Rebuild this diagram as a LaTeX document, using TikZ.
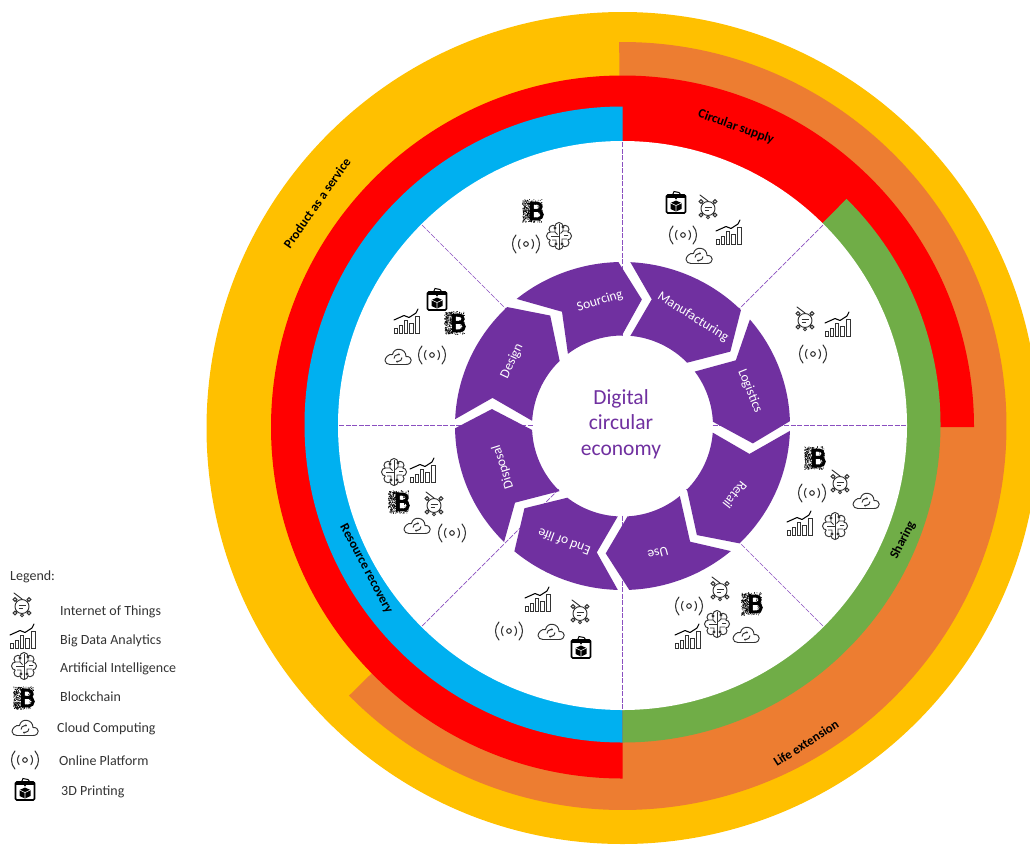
\documentclass[tikz,border=0pt]{standalone}
\usepackage{fontspec}
\setmainfont{Carlito}
\usetikzlibrary{arrows.meta}
\definecolor{ringyellow}{HTML}{FFC000}
\definecolor{ringorange}{HTML}{ED7D31}
\definecolor{ringred}{HTML}{FF0000}
\definecolor{ringblue}{HTML}{00B0F0}
\definecolor{ringgreen}{HTML}{70AD47}
\definecolor{segpurple}{HTML}{7030A0}
\definecolor{dashpurple}{HTML}{8A4FC0}
\definecolor{icogray}{HTML}{333333}
\newcommand{\segshape}[8]{%
  \fill[segpurple] (#1:167.5 and 164) arc[start angle=#1,end angle=#2,x radius=167.5,y radius=164]
    -- (#3:#4) -- (#5:90.5) arc[start angle=#5,end angle=#6,radius=90.5] -- (#7:#8) -- cycle;}
\tikzset{
  seglabel/.style={text=white,font=\fontsize{13.5}{15}\selectfont,inner sep=0pt},
  ringlabel/.style={text=black,font=\fontsize{13}{15}\bfseries\selectfont,inner sep=0pt},
  legendlabel/.style={text=black!80,font=\fontsize{14}{16}\selectfont,inner sep=0pt,anchor=west},
  divider/.style={dashpurple,line width=.7pt,dash pattern=on 5pt off 1.5pt},
  icowifi/.pic={
    \begin{scope}[icogray,line width=1.05pt,line cap=round]
      \draw (0,0) circle[radius=2.3];
      \draw (-38:7.5) arc[start angle=-38,end angle=38,radius=7.5];
      \draw (142:7.5) arc[start angle=142,end angle=218,radius=7.5];
      \draw (-42:13.5) arc[start angle=-42,end angle=42,radius=13.5];
      \draw (138:13.5) arc[start angle=138,end angle=222,radius=13.5];
    \end{scope}},
  icochart/.pic={
    \begin{scope}[icogray,line width=.95pt]
      \draw (-12.5,11.5) rectangle (-9.3,6.5);
      \draw (-7.4,11.5) rectangle (-4.2,3);
      \draw (-2.3,11.5) rectangle (.9,-1.5);
      \draw (2.8,11.5) rectangle (6,1);
      \draw (8.4,11.5) rectangle (12.2,-6);
      \draw[black,line width=1.05pt,line cap=round,line join=round] (-13,-2) -- (-3,-6.5) -- (2,-4.5) -- (9,-9) -- (11,-13);
    \end{scope}},
  icoiot/.pic={
    \begin{scope}[icogray,line width=.95pt]
      \draw[line cap=round] (-8,-13) -- (0,-7);
      \draw (-7,-6.5) -- (7,7) (7,-6.5) -- (-7,7);
      \fill[white] (0,.5) circle[radius=7];
      \draw (0,.5) circle[radius=7];
      \draw[fill=white] (-7,-6.5) circle[radius=1.9] (7,-6.5) circle[radius=1.9] (-7,7) circle[radius=1.9] (7,7) circle[radius=1.9] (0,9.3) circle[radius=1.5];
      \draw (-3.5,-.5) -- (3.5,-.5) (-3.5,2) -- (1,2);
    \end{scope}},
  icobrain/.pic={
    \begin{scope}[icogray,line width=.95pt]
      \foreach \a in {0,45,...,315} {\draw[fill=white] (\a:8.5 and 9.5) circle[radius=4];}
      \fill[white] (0,0) circle[x radius=9.2,y radius=10.3];
      \draw (0,-12.5) -- (0,12.5);
      \draw (-9,-4) -- (-4,-4) -- (-1.5,-1.5) (-7,4) -- (-3,4) -- (-3,8) (-4,-8) -- (-4,-4) (-8,0.5) -- (0,0.5);
      \draw (9,-5) -- (4,-5) -- (1.5,-2.5) (8,3) -- (3,3) -- (3,8) (4,-9) -- (4,-5) (9,-.5) -- (5,-.5);
      \draw[fill=white] (-3,8) circle[radius=1] (3,8) circle[radius=1] (-4,-8) circle[radius=1] (4,-9) circle[radius=1];
    \end{scope}},
  icob/.pic={
    \begin{scope}[black]
      \foreach \i in {1,...,260} {\fill ({10*rand-.5},{11.5*rand}) circle[radius=.48];}
      \foreach \i in {1,...,120} {\fill ({4.5*rand-5.5},{10.5*rand}) circle[radius=.55];}
      \draw[line width=3.4pt] (-1,-9.4) -- (-1,9.4);
      \draw[line width=3pt] (-2,-7.8) -- (4.5,-7.8) arc[start angle=-90,end angle=90,radius=3.6] -- (-2,-.6);
      \draw[line width=3pt] (-2,-.6) -- (5,-.6) arc[start angle=-90,end angle=90,radius=4.2] -- (-2,7.8);
      \fill[white] (0.8,-6) rectangle (4.2,-2.4) (0.8,1.2) rectangle (4.8,6);
    \end{scope}},
  icocloud/.pic={
    \begin{scope}[icogray,line width=.95pt,line join=round]
      \draw (-8,7.5) -- (8,7.5) .. controls (15,7.5) and (15,-1) .. (8,-.5)
        .. controls (8,-9) and (-4,-10.5) .. (-5.5,-2.5)
        .. controls (-9.5,-3.5) and (-13,1) .. (-13,3.5)
        .. controls (-13,6) and (-10.5,7.5) .. (-8,7.5);
      \draw[-{Stealth[length=2.4pt,width=2.8pt]}] (-4,1.5) arc[start angle=180,end angle=300,radius=4];
      \draw[-{Stealth[length=2.4pt,width=2.8pt]}] (4,.5) arc[start angle=0,end angle=120,radius=4];
    \end{scope}},
  icoprinter/.pic={
    \begin{scope}[black]
      \draw[line width=1.6pt,fill=white,rounded corners=1.2pt] (-9.5,-8) rectangle (9.5,10);
      \fill (-9.5,-8) rectangle (9.5,-5.5);
      \draw[line width=1pt] (-3.5,-8) -- (-2,-11.5) -- (3,-10.5) -- (5,-8);
      \fill (0,-2.5) -- (5.5,0) -- (5.5,6) -- (0,8.5) -- (-5.5,6) -- (-5.5,0) -- cycle;
      \draw[white,line width=.6pt] (-5.5,0) -- (0,2.5) -- (5.5,0) (0,2.5) -- (0,8.5);
      \fill (-1.5,-5.5) -- (1.5,-5.5) -- (0,-3.4) -- cycle;
    \end{scope}}
}
\begin{document}
\begin{tikzpicture}[x=1pt,y=-1pt]
\clip (0,0) rectangle (1030,844);
\pgfmathsetseed{42}
% rings
\begin{scope}[shift={(622.5,428)},y=1pt]
  \fill[ringyellow] (0,0) circle[radius=416];
\end{scope}
\begin{scope}[shift={(622.5,426)},y=1pt]
  \fill[ringorange] (0,0) -- (90.5:384) arc[start angle=90.5,end angle=-135.4,radius=384] -- cycle;
\end{scope}
\begin{scope}[shift={(622.5,427)},y=1pt]
  \fill[ringred] (0,0) -- (0:351.5) arc[start angle=0,end angle=270,radius=351.5] -- cycle;
\end{scope}
\begin{scope}[shift={(622.5,424.5)},y=1pt]
  \fill[ringblue] (0,0) -- (90:318) arc[start angle=90,end angle=270,radius=318] -- cycle;
  \fill[ringgreen] (0,0) -- (270:318) arc[start angle=270,end angle=405.2,radius=318] -- cycle;
\end{scope}
\begin{scope}[shift={(622.5,425.5)},y=1pt]
  \fill[white] (0,0) circle[radius=284.5];
  \foreach \a in {0,45,...,315} {\draw[divider] (\a:90) -- (\a:284);}
\end{scope}
% process ring
\begin{scope}[shift={(622.5,426)},y=1pt]
  \segshape{129.2}{91.4}{81.3}{128}{90.4}{127.1}{117.9}{129.3}
  \segshape{87.3}{45}{34.6}{131}{44.4}{85}{77}{130}
  \segshape{40.5}{1.7}{-7.6}{131.5}{2.7}{37}{30.1}{131}
  \segshape{-1.7}{-45.7}{-55.7}{132}{-44.6}{-4.2}{-12.4}{130}
  \segshape{-49.7}{-87.7}{-97.5}{128.5}{-86.8}{-50.7}{-59.7}{134}
  \segshape{-91.6}{-130.2}{-140}{128}{-127.6}{-93}{-101.5}{129}
  \segshape{225}{180.8}{172.6}{131.7}{182.5}{226}{215.5}{132}
  \segshape{177.6}{133.5}{123.2}{132}{134}{176.7}{167.8}{133}
\end{scope}
% process labels
\node[seglabel,rotate=17] (sourcing) at (600,301) {Sourcing};
\node[seglabel,rotate=-32] (manufacturing) at (693,317) {Manufacturing};
\node[seglabel,rotate=-68] (logistics) at (750,391) {Logistics};
\node[seglabel,rotate=-128] (retail) at (735,495) {Retail};
\node[seglabel,rotate=195] (use) at (658,553) {Use};
\node[seglabel,rotate=159.5] (endoflife) at (564,542) {End of life};
\node[seglabel,rotate=107.7] (disposal) at (503,467) {Disposal};
\node[seglabel,rotate=64.7] (design) at (512,361) {Design};
\node[text=segpurple,font=\fontsize{21.5}{25.5}\selectfont,align=center,inner sep=0pt] (centre) at (621,424) {Digital\\circular\\economy};
% ring labels
\node[ringlabel,rotate=-20] (circular) at (736,127) {Circular supply};
\node[ringlabel,rotate=55] (product) at (317,203) {Product as a service};
\node[ringlabel,rotate=-62] (resource) at (366,569) {Resource recovery};
\node[ringlabel,rotate=63] (sharing) at (903,540) {Sharing};
\node[ringlabel,rotate=32.6] (life) at (806,743) {Life extension};
% icons: Sourcing
\pic at (533,211) {icob};
\pic at (559,236) {icobrain};
\pic at (526,244) {icowifi};
% Manufacturing
\pic at (676,203) {icoprinter};
\pic at (708,208) {icoiot};
\pic at (683,235) {icowifi};
\pic at (729,233) {icochart};
\pic at (699,256) {icocloud};
% Logistics
\pic at (805,320) {icoiot};
\pic at (838,325) {icochart};
\pic at (813,354) {icowifi};
% Retail
\pic at (815,458) {icob};
\pic at (840,483) {icoiot};
\pic at (812,493) {icowifi};
\pic at (866,501) {icocloud};
\pic at (800,524) {icochart};
\pic at (835,526) {icobrain};
% Use
\pic at (689,606) {icowifi};
\pic at (720,590) {icoiot};
\pic at (752,604) {icob};
\pic at (717,624) {icobrain};
\pic at (688,637) {icochart};
\pic at (746,635) {icocloud};
% End of life
\pic at (538,600) {icochart};
\pic at (580,613) {icoiot};
\pic at (509,631) {icowifi};
\pic at (551,632) {icocloud};
\pic at (581,648) {icoprinter};
% Disposal
\pic at (394,472) {icobrain};
\pic at (423,471) {icochart};
\pic at (399,502) {icob};
\pic at (434,505) {icoiot};
\pic at (417,526) {icocloud};
\pic at (452,533) {icowifi};
% Design
\pic at (437,300) {icoprinter};
\pic at (407,322) {icochart};
\pic at (455,323) {icob};
\pic at (398,357) {icocloud};
\pic at (432,355) {icowifi};
% legend
\node[legendlabel] (legend) at (10,577) {Legend:};
\pic at (22,606) {icoiot};
\node[legendlabel] (liot) at (60,611.5) {Internet of Things};
\pic at (23,637) {icochart};
\node[legendlabel] (lbig) at (60,640.5) {Big Data Analytics};
\pic at (24,666) {icobrain};
\node[legendlabel] (lai) at (60,668.5) {Artificial Intelligence};
\pic at (24,698) {icob};
\node[legendlabel] (lblock) at (60,697) {Blockchain};
\pic at (25,728) {icocloud};
\node[legendlabel] (lcloud) at (57,728.5) {Cloud Computing};
\pic at (25,760) {icowifi};
\node[legendlabel] (lonline) at (59,760.5) {Online Platform};
\pic at (25,790) {icoprinter};
\node[legendlabel] (lprint) at (61,791.5) {3D Printing};
\end{tikzpicture}
\end{document}
